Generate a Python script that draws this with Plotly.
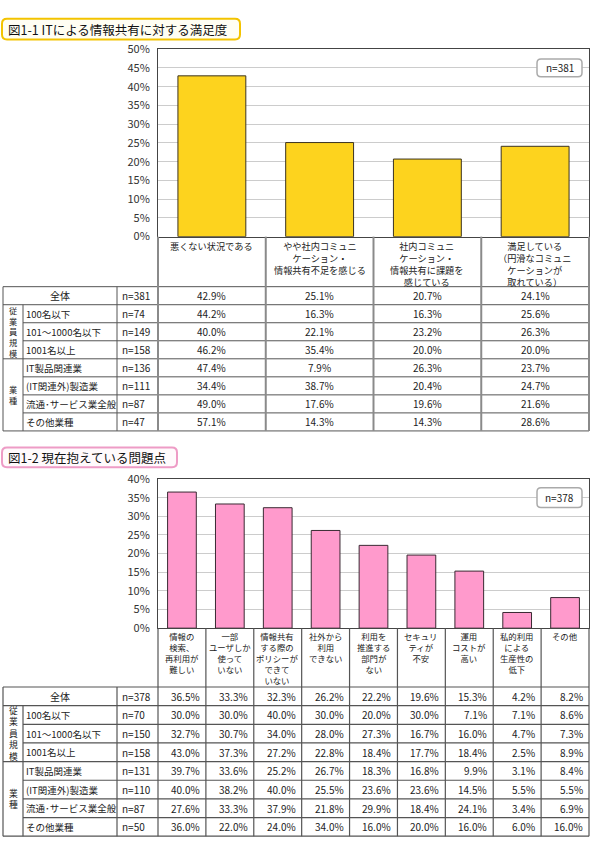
import plotly.graph_objects as go

# ------------------------------------------------------------------ data
title1 = "図1-1 ITによる情報共有に対する満足度"
title2 = "図1-2 現在抱えている問題点"

cats1 = [
    "悪くない状況である",
    "やや社内コミュニ<br>ケーション・<br>情報共有不足を感じる",
    "社内コミュニ<br>ケーション・<br>情報共有に課題を<br>感じている",
    "満足している<br>（円滑なコミュニ<br>ケーションが<br>取れている）",
]
cats2 = [
    "情報の<br>検索、<br>再利用が<br>難しい",
    "一部<br>ユーザしか<br>使って<br>いない",
    "情報共有<br>する際の<br>ポリシーが<br>できて<br>いない",
    "社外から<br>利用<br>できない",
    "利用を<br>推進する<br>部門が<br>ない",
    "セキュリ<br>ティが<br>不安",
    "運用<br>コストが<br>高い",
    "私的利用<br>による<br>生産性の<br>低下",
    "その他",
]

row_labels = ["全体", "100名以下", "101～1000名以下", "1001名以上",
              "IT製品関連業", "(IT関連外)製造業", "流通･サービス業全般", "その他業種"]
group_labels = ["従業員規模", "業種"]
group_rows = [(1, 3), (4, 7)]

n1 = [381, 74, 149, 158, 136, 111, 87, 47]
n2 = [378, 70, 150, 158, 131, 110, 87, 50]

y1_ticks = [0, 5, 10, 15, 20, 25, 30, 35, 40, 45, 50]
y2_ticks = [0, 5, 10, 15, 20, 25, 30, 35, 40]

# table 1 (図1-1) rows
t1_all = [42.9, 25.1, 20.7, 24.1]
t1_s100 = [44.2, 16.3, 16.3, 25.6]
t1_s1000 = [40.0, 22.1, 23.2, 26.3]
t1_s1001 = [46.2, 35.4, 20.0, 20.0]
t1_it = [47.4, 7.9, 26.3, 23.7]
t1_mfg = [34.4, 38.7, 20.4, 24.7]
t1_dist = [49.0, 17.6, 19.6, 21.6]
t1_other = [57.1, 14.3, 14.3, 28.6]

# table 2 (図1-2) rows
t2_all = [36.5, 33.3, 32.3, 26.2, 22.2, 19.6, 15.3, 4.2, 8.2]
t2_s100 = [30.0, 30.0, 40.0, 30.0, 20.0, 30.0, 7.1, 7.1, 8.6]
t2_s1000 = [32.7, 30.7, 34.0, 28.0, 27.3, 16.7, 16.0, 4.7, 7.3]
t2_s1001 = [43.0, 37.3, 27.2, 22.8, 18.4, 17.7, 18.4, 2.5, 8.9]
t2_it = [39.7, 33.6, 25.2, 26.7, 18.3, 16.8, 9.9, 3.1, 8.4]
t2_mfg = [40.0, 38.2, 40.0, 25.5, 23.6, 23.6, 14.5, 5.5, 5.5]
t2_dist = [27.6, 33.3, 37.9, 21.8, 29.9, 18.4, 24.1, 3.4, 6.9]
t2_other = [36.0, 22.0, 24.0, 34.0, 16.0, 20.0, 16.0, 6.0, 16.0]

table1 = [t1_all, t1_s100, t1_s1000, t1_s1001, t1_it, t1_mfg, t1_dist, t1_other]
table2 = [t2_all, t2_s100, t2_s1000, t2_s1001, t2_it, t2_mfg, t2_dist, t2_other]

# ------------------------------------------------------------------ layout helpers
W, H = 590, 852
FONT = "Noto Sans CJK JP"
TXT = "#222222"


def X(p):
    return p / W


def Y(p):
    return 1 - p / H


shapes = []
annots = []


def line(x0, y0, x1, y1, color="#555555", width=1):
    shapes.append(dict(type="line", xref="paper", yref="paper",
                       x0=X(x0), y0=Y(y0), x1=X(x1), y1=Y(y1),
                       line=dict(color=color, width=width), layer="above"))


def rrect(x0, y0, x1, y1, r, color, width, fill):
    pts = [
        f"M{X(x0 + r)},{Y(y0)}", f"L{X(x1 - r)},{Y(y0)}",
        f"Q{X(x1)},{Y(y0)} {X(x1)},{Y(y0 + r)}", f"L{X(x1)},{Y(y1 - r)}",
        f"Q{X(x1)},{Y(y1)} {X(x1 - r)},{Y(y1)}", f"L{X(x0 + r)},{Y(y1)}",
        f"Q{X(x0)},{Y(y1)} {X(x0)},{Y(y1 - r)}", f"L{X(x0)},{Y(y0 + r)}",
        f"Q{X(x0)},{Y(y0)} {X(x0 + r)},{Y(y0)}", "Z",
    ]
    shapes.append(dict(type="path", xref="paper", yref="paper", path=" ".join(pts),
                       line=dict(color=color, width=width), fillcolor=fill, layer="above"))


def text(t, x, y, size=10, xanchor="center", yanchor="middle", xref="paper",
         xshift=0, color=TXT):
    annots.append(dict(text=t, x=(X(x) if xref == "paper" else x), y=Y(y),
                       xref=xref, yref="paper", xanchor=xanchor, yanchor=yanchor,
                       showarrow=False, xshift=xshift, borderpad=0,
                       font=dict(family=FONT, size=size, color=color)))


# ------------------------------------------------------------------ figure
fig = go.Figure()

fig.add_trace(go.Bar(x=cats1, y=t1_all, width=0.63, xaxis="x", yaxis="y",
                     marker=dict(color="#FDD31E", line=dict(color="#3b3322", width=1)),
                     hoverinfo="skip"))
fig.add_trace(go.Bar(x=cats2, y=t2_all, width=0.6, xaxis="x2", yaxis="y2",
                     marker=dict(color="#FF9ACC", line=dict(color="#3a2a33", width=1)),
                     hoverinfo="skip"))

axis_common = dict(showline=True, mirror=True, linecolor="#444444", linewidth=1,
                   zeroline=False, fixedrange=True)
yax_common = dict(axis_common, showgrid=True, gridcolor="#cccccc", gridwidth=1,
                  ticks="", ticklabelstandoff=5,
                  tickfont=dict(family=FONT, size=11, color="#333333"))

PLOT_L, PLOT_R = 158, 589
P1_TOP, P1_BOT = 41, 232
P2_TOP, P2_BOT = 479, 631

fig.update_layout(
    width=W, height=H, margin=dict(l=0, r=0, t=0, b=0),
    paper_bgcolor="white", plot_bgcolor="white", showlegend=False,
    xaxis=dict(axis_common, domain=[X(PLOT_L), X(PLOT_R)], range=[-0.5, len(cats1) - 0.5],
               showticklabels=False, ticks="", showgrid=False, anchor="y"),
    yaxis=dict(yax_common, domain=[Y(P1_BOT), Y(P1_TOP)], range=[0, 50],
               tickmode="array", tickvals=y1_ticks, ticktext=[f"{v}%" for v in y1_ticks],
               anchor="x"),
    xaxis2=dict(axis_common, domain=[X(PLOT_L), X(PLOT_R)], range=[-0.5, len(cats2) - 0.5],
                showticklabels=False, ticks="", showgrid=False, anchor="y2"),
    yaxis2=dict(yax_common, domain=[Y(P2_BOT), Y(P2_TOP)], range=[0, 40],
                tickmode="array", tickvals=y2_ticks, ticktext=[f"{v}%" for v in y2_ticks],
                anchor="x2"),
)


# ------------------------------------------------------------------ tables
def build_table(cats, rows, ns, xref, head_top, head_bot, bottom, head_size, head_pad,
                v_color, v_width, h_color, h_width, align, group_size):
    ncol = len(cats)
    colw = (PLOT_R - PLOT_L) / ncol
    rh = (bottom - head_bot) / len(rows)
    xL, xG, xLab = 3, 23, 117

    # header labels (multi-line, top aligned in each column)
    for i, c in enumerate(cats):
        text(c, i, head_top + head_pad, size=head_size, xref=xref, yanchor="top")

    # horizontal lines
    line(xL, head_bot, PLOT_R, head_bot, h_color, h_width)
    full = {1, group_rows[1][0], len(rows)}
    for r in range(1, len(rows) + 1):
        yb = head_bot + r * rh
        line(xL if r in full else xG, yb, PLOT_R, yb, h_color, h_width)
    # vertical lines
    line(xL, head_bot, xL, bottom, h_color, h_width)
    line(xG, head_bot + rh, xG, bottom, h_color, h_width)
    line(xLab, head_bot, xLab, bottom, h_color, h_width)
    for i in range(ncol + 1):
        xv = PLOT_L + i * colw
        line(xv, head_top, xv, bottom, v_color, v_width)

    # rows
    for r, (lab, n, vals) in enumerate(zip(row_labels, ns, rows)):
        yc = head_bot + (r + 0.5) * rh
        if r == 0:
            text(lab, (xL + xLab) / 2, yc)
        else:
            text(lab, 25, yc, xanchor="left", size=9.5)
        text(f"n={n}", 121, yc, xanchor="left")
        for i, v in enumerate(vals):
            if align == "center":
                text(f"{v:.1f}%", i, yc, xref=xref)
            else:
                text(f"{v:.1f}%", i + 0.5, yc, xref=xref, xanchor="right", xshift=-5)

    # vertical group labels (one character per line)
    for g, (a, b) in zip(group_labels, group_rows):
        yc = head_bot + (a + b + 1) / 2 * rh
        text("<br>".join(g), (xL + xG) / 2, yc, size=group_size)


build_table(cats1, table1, n1, "x", P1_BOT, 283, 430, 9.2, 1.5,
            "#8a8a8a", 2, "#555555", 1, "center", 8.2)
build_table(cats2, table2, n2, "x2", P2_BOT, 691, 843, 8.4, 0.5,
            "#555555", 1.2, "#555555", 1.2, "right", 8.8)

# ------------------------------------------------------------------ titles and n boxes
rrect(2, 10, 240, 31, 5, "#F3C300", 2, "#FFFEF3")
text(title1, 7, 20.5, size=12.5, xanchor="left", color="#111111")
rrect(2, 447, 177, 467, 5, "#EE9CC6", 2, "#FFFAFC")
text(title2, 7, 457, size=12.5, xanchor="left", color="#111111")

rrect(537, 51, 582, 69, 4, "#aaaaaa", 1.5, "white")
text(f"n={n1[0]}", 559.5, 60)
rrect(537, 488, 582, 508, 4, "#aaaaaa", 1.5, "white")
text(f"n={n2[0]}", 559.5, 498)

fig.update_layout(shapes=shapes, annotations=annots)
fig.write_html("out.html", config={"displayModeBar": False},
               post_script="document.body.style.margin='0';"
                           "document.body.style.overflow='hidden';")
